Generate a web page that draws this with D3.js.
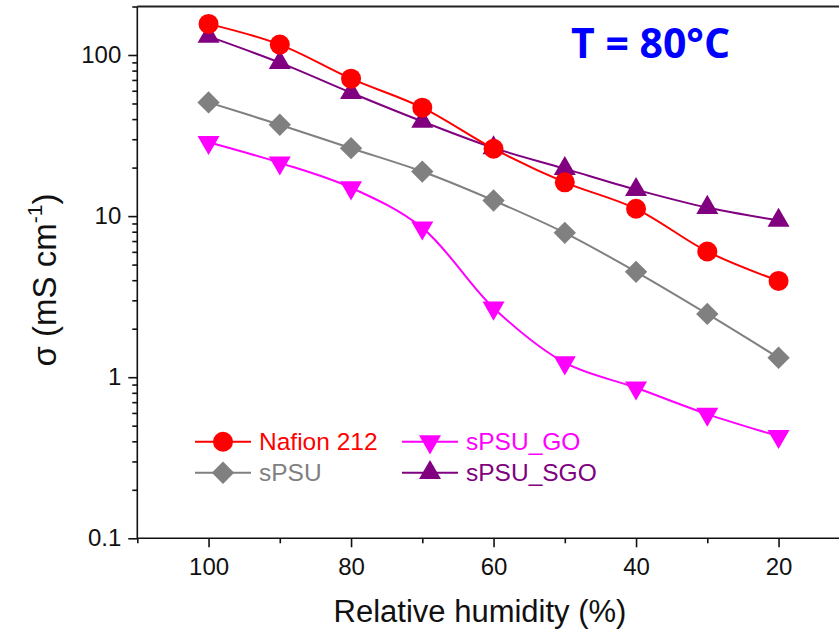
<!doctype html>
<html lang="en">
<head>
    <meta charset="utf-8"/>
    <title>Conductivity vs humidity</title>
    <script src="https://d3js.org/d3.v7.min.js"></script>
    <style>
        body {
            margin: 0;
            padding: 0;
            background: white;
        }
        text {
            font-family: 'Liberation Sans', Arial, sans-serif;
        }
    </style>
</head>
<body>
<script>

    // datos
    const humidity = [100, 90, 80, 70, 60, 50, 40, 30, 20];
    const nafion212 = [156, 116, 71.3, 47.1, 26.2, 16.2, 11.1, 6.03, 3.96];
    const sPSU = [50.8, 36.9, 26.4, 18.9, 12.5, 7.87, 4.51, 2.47, 1.32];
    const sPSU_GO = [28.7, 21.4, 15.0, 8.45, 2.69, 1.23, 0.86, 0.59, 0.43];
    const sPSU_SGO = [130.5, 89.6, 58.3, 38.7, 26.5, 19.7, 14.6, 11.3, 9.4];

    const seriesNames = ['Nafion 212', 'sPSU', 'sPSU_GO', 'sPSU_SGO'];
    const xTicks = [100, 80, 60, 40, 20];
    const xMinorTicks = [110, 90, 70, 50, 30, 10];
    const yTicks = [0.1, 1, 10, 100];

    const width = 839, height = 632;

    const svg = d3.select('body')
        .append('svg')
        .attr('width', width)
        .attr('height', height);

    // escalas (eje x invertido, y logaritmico)
    const x = d3.scaleLinear().domain([110, 10]).range([137.3, 849.8]);
    const y = d3.scaleLog().domain([0.1, 200]).range([538.3, 6.5]);

    // ticks menores del eje y: 2..9 por decada
    const yMinor = [];
    [0.1, 1, 10, 100].forEach(function (d) {
        for (let k = 2; k <= 9; k++) {
            if (d * k <= 200) yMinor.push(d * k);
        }
    });

    // eje y
    const yAxis = svg.append('g')
        .attr('transform', 'translate(137.3,0)')
        .call(d3.axisLeft(y).tickValues(yTicks).tickSize(9).tickPadding(7)
            .tickFormat(function (d) { return d3.format('~g')(d); }));
    svg.append('g')
        .attr('transform', 'translate(137.3,0)')
        .call(d3.axisLeft(y).tickValues(yMinor).tickSize(5).tickFormat(''))
        .select('.domain').remove();

    // eje x
    const xAxis = svg.append('g')
        .attr('transform', 'translate(0,538.3)')
        .call(d3.axisBottom(x).tickValues(xTicks).tickSize(9).tickPadding(11));
    svg.append('g')
        .attr('transform', 'translate(0,538.3)')
        .call(d3.axisBottom(x).tickValues(xMinorTicks).tickSize(5).tickFormat(''))
        .select('.domain').remove();

    svg.selectAll('.domain, .tick line')
        .attr('stroke', '#111')
        .attr('stroke-width', 1.6);
    svg.selectAll('.tick text')
        .attr('fill', '#111')
        .style('font-size', '24px')
        .style('font-family', "'Liberation Sans', Arial, sans-serif");
    yAxis.select('.domain').attr('d', 'M0,538.3V6.5');
    xAxis.select('.domain').attr('d', 'M137.3,0H849.8');

    // borde superior
    svg.append('line')
        .attr('x1', 137.3).attr('x2', 849.8)
        .attr('y1', 6.5).attr('y2', 6.5)
        .attr('stroke', '#222')
        .attr('stroke-width', 2);

    // titulos de ejes
    svg.append('text')
        .attr('x', 480)
        .attr('y', 622)
        .attr('text-anchor', 'middle')
        .style('font-size', '31px')
        .attr('fill', '#111')
        .text('Relative humidity (%)');

    const yLabel = svg.append('text')
        .attr('transform', 'translate(56,280) rotate(-90)')
        .attr('text-anchor', 'middle')
        .style('font-size', '33px')
        .attr('fill', '#111');
    yLabel.append('tspan').text('σ (mS cm');
    yLabel.append('tspan').attr('dy', -14).style('font-size', '21px').text('-1');
    yLabel.append('tspan').attr('dy', 14).text(')');

    // T = 80 C
    svg.append('text')
        .attr('x', 571)
        .attr('y', 58)
        .style('font-family', "'Open Sans', sans-serif")
        .style('font-weight', 'bold')
        .style('font-size', '41px')
        .attr('fill', '#0000ff')
        .text('T = 80°C');

    // series
    const squareDiamond = {
        draw: function (ctx, size) {
            const r = Math.sqrt(size / 2);
            ctx.moveTo(0, -r);
            ctx.lineTo(r, 0);
            ctx.lineTo(0, r);
            ctx.lineTo(-r, 0);
            ctx.closePath();
        }
    };

    const series = [
        {name: seriesNames[0], values: nafion212, color: '#ff0000', symbol: d3.symbolCircle, size: 314, rot: 0},
        {name: seriesNames[1], values: sPSU, color: '#808080', symbol: squareDiamond, size: 250, rot: 0},
        {name: seriesNames[2], values: sPSU_GO, color: '#ff00ff', symbol: d3.symbolTriangle, size: 210, rot: 180},
        {name: seriesNames[3], values: sPSU_SGO, color: '#800080', symbol: d3.symbolTriangle, size: 210, rot: 0}
    ];

    const line = d3.line()
        .x(function (d) { return x(d[0]); })
        .y(function (d) { return y(d[1]); })
        .curve(d3.curveCatmullRom.alpha(0.5));

    // orden de dibujo parecido al original
    [1, 2, 3, 0].forEach(function (i) {
        const s = series[i];
        const pts = humidity.map(function (h, j) { return [h, s.values[j]]; });
        svg.append('path')
            .datum(pts)
            .attr('d', line)
            .attr('fill', 'none')
            .attr('stroke', s.color)
            .attr('stroke-width', 2);
        svg.append('g')
            .selectAll('path')
            .data(pts)
            .enter()
            .append('path')
            .attr('d', d3.symbol().type(s.symbol).size(s.size))
            .attr('transform', function (d) {
                return 'translate(' + x(d[0]) + ',' + y(d[1]) + ') rotate(' + s.rot + ')';
            })
            .attr('fill', s.color);
    });

    // leyenda
    const legendPos = [
        {x: 195, y: 441.7},
        {x: 195, y: 472.7},
        {x: 402, y: 441.7},
        {x: 402, y: 472.7}
    ];
    series.forEach(function (s, i) {
        const p = legendPos[i];
        const g = svg.append('g').attr('transform', 'translate(' + p.x + ',' + p.y + ')');
        g.append('line')
            .attr('x1', 0).attr('x2', 56)
            .attr('stroke', s.color)
            .attr('stroke-width', 2);
        g.append('path')
            .attr('d', d3.symbol().type(s.symbol).size(s.size))
            .attr('transform', 'translate(28,0) rotate(' + s.rot + ')')
            .attr('fill', s.color);
        g.append('text')
            .attr('x', 64)
            .attr('y', 8.5)
            .style('font-size', '24.5px')
            .attr('fill', s.color)
            .text(s.name);
    });

</script>
</body>
</html>
